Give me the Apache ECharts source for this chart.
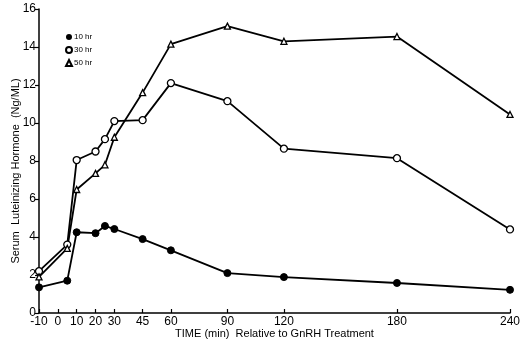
<!DOCTYPE html>
<html><head><meta charset="utf-8">
<script src="https://cdn.jsdelivr.net/npm/echarts@6/dist/echarts.min.js"></script>
<style>html,body{margin:0;padding:0;background:#fff}#c{width:524px;height:349px}</style>
</head><body><div id="c"></div>
<script>
const times = [-10, 5, 10, 20, 25, 30, 45, 60, 90, 120, 180, 240];
const lh10hr = [1.35, 1.7, 4.25, 4.2, 4.58, 4.42, 3.89, 3.3, 2.1, 1.89, 1.58, 1.22];
const lh30hr = [2.2, 3.6, 8.05, 8.5, 9.15, 10.1, 10.15, 12.1, 11.15, 8.65, 8.15, 4.4];
const lh50hr = [1.9, 3.4, 6.5, 7.35, 7.8, 9.25, 11.6, 14.15, 15.1, 14.3, 14.55, 10.45];
const xTicks = [-10, 0, 10, 20, 30, 45, 60, 90, 120, 180, 240];
const yTicks = [0, 2, 4, 6, 8, 10, 12, 14, 16];
const seriesNames = ['10 hr', '30 hr', '50 hr'];

const pair = (ys) => times.map((t, i) => [t, ys[i]]);
const font = 'Liberation Sans, Arial, sans-serif';
const chart = echarts.init(document.getElementById('c'), null, {renderer: 'canvas'});
chart.setOption({
  animation: false,
  backgroundColor: '#fff',
  grid: {left: 39, right: 14, top: 9, bottom: 36, containLabel: false, outerBoundsMode: 'none'},
  legend: {
    orient: 'vertical', left: 60, top: 28, itemWidth: 6, itemHeight: 6, itemGap: 5,
    lineStyle: {opacity: 0, width: 0},
    textStyle: {fontSize: 8, color: '#000', fontFamily: font, padding: [0, 0, 0, -3]},
    data: [
      {name: seriesNames[0], icon: 'circle'},
      {name: seriesNames[1], icon: 'circle'},
      {name: seriesNames[2], icon: 'triangle'}
    ]
  },
  xAxis: {
    type: 'value', min: -10, max: 240,
    name: 'TIME (min)  Relative to GnRH Treatment', nameLocation: 'middle', nameGap: 15,
    nameMoveOverlap: false,
    nameTextStyle: {fontSize: 11, color: '#000', fontFamily: font},
    axisLine: {onZero: false, lineStyle: {color: '#000', width: 1.5}},
    axisTick: {inside: true, length: 4, lineStyle: {color: '#000', width: 1.2}, customValues: xTicks},
    axisLabel: {fontSize: 12, color: '#000', fontFamily: font, margin: 3, customValues: xTicks},
    splitLine: {show: false}
  },
  yAxis: {
    type: 'value', min: 0, max: 16, interval: 2,
    name: 'Serum  Luteinizing Hormone  (Ng/ML)', nameLocation: 'middle', nameGap: 18,
    nameMoveOverlap: false,
    nameTextStyle: {fontSize: 11, color: '#000', fontFamily: font, padding: [0, 20, 0, 0]},
    axisLine: {show: true, onZero: false, lineStyle: {color: '#000', width: 1.5}},
    axisTick: {show: true, length: 4, lineStyle: {color: '#000', width: 1.2}},
    axisLabel: {fontSize: 12, color: '#000', fontFamily: font, margin: 3,
      formatter: v => yTicks.includes(v) ? String(v) : ''},
    splitLine: {show: false}
  },
  series: [
    {name: seriesNames[0], type: 'line', data: pair(lh10hr), symbol: 'circle', symbolSize: 7,
      lineStyle: {color: '#000', width: 1.8}, itemStyle: {color: '#000', borderColor: '#000'}},
    {name: seriesNames[1], type: 'line', data: pair(lh30hr), symbol: 'circle', symbolSize: 7,
      lineStyle: {color: '#000', width: 1.8}, itemStyle: {color: '#fff', borderColor: '#000', borderWidth: 1.3}},
    {name: seriesNames[2], type: 'line', data: pair(lh50hr), symbol: 'triangle', symbolSize: 6,
      lineStyle: {color: '#000', width: 1.8}, itemStyle: {color: '#fff', borderColor: '#000', borderWidth: 1.3}}
  ]
});
</script></body></html>
